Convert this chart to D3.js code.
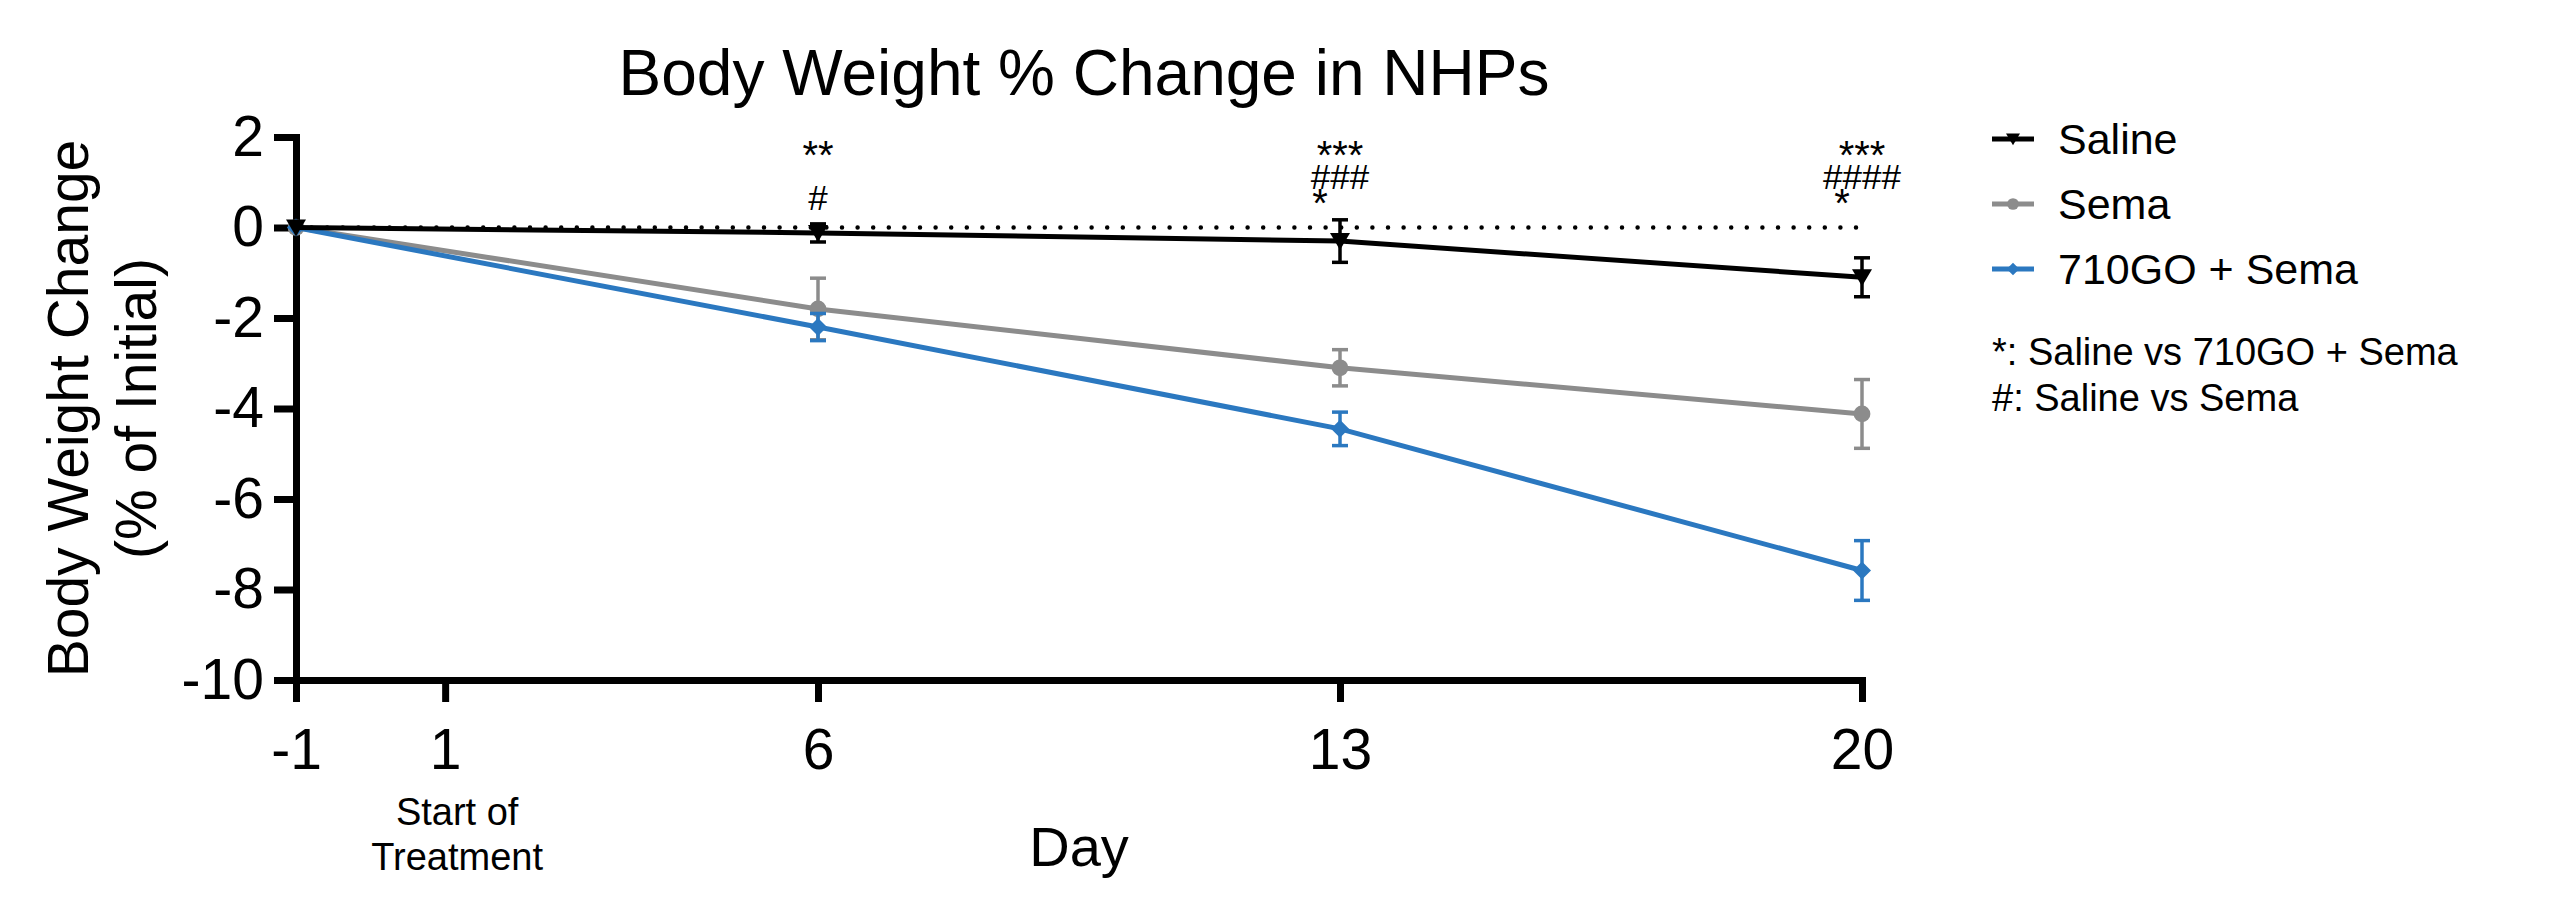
<!DOCTYPE html>
<html lang="en">
<head>
  <meta charset="utf-8" />
  <title>Body Weight % Change in NHPs</title>
  <script src="https://cdn.jsdelivr.net/npm/d3@7"></script>
  <style>
body{
  margin: 0;
  background: #ffffff;
}
svg{
  display: block;
  font-family: 'Liberation Sans', Arial, sans-serif;
}
  </style>
</head>
<body>
  <svg id="chart"></svg>
  <script>
  // data (mean and SEM, % of initial body weight)
  const days = [-1, 6, 13, 20];
  const dayTicks = [-1, 1, 6, 13, 20];
  const yTicks = [2, 0, -2, -4, -6, -8, -10];
  const seriesNames = ['Saline', 'Sema', '710GO + Sema'];
  const salineMean = [0, -0.12, -0.3, -1.1];
  const salineErr = [0, 0.2, 0.47, 0.43];
  const semaMean = [0, -1.8, -3.1, -4.12];
  const semaErr = [0, 0.68, 0.4, 0.76];
  const comboMean = [0, -2.2, -4.45, -7.58];
  const comboErr = [0, 0.3, 0.37, 0.66];
  const annotDays = [6, 13, 20];
  const starLabels = ['**', '***', '***'];
  const hashLabels = ['#', '###', '####'];
  const strayLabels = ['', '*', '*'];
  const footnotes = ['*: Saline vs 710GO + Sema', '#: Saline vs Sema'];

  const width = 2560, height = 921;
  const svg = d3.select('#chart').attr('width', width).attr('height', height);

  const x = d3.scaleLinear().domain([-1, 20]).range([296, 1862]);
  const y = d3.scaleLinear().domain([-10, 2]).range([680, 137]);

  const series = [
    {name: seriesNames[1], mean: semaMean, err: semaErr, color: '#8c8c8c', shape: 'circle'},
    {name: seriesNames[2], mean: comboMean, err: comboErr, color: '#2b78c0', shape: 'diamond'},
    {name: seriesNames[0], mean: salineMean, err: salineErr, color: '#000000', shape: 'triangle'}
  ];

  function markerPath(shape){
    if(shape == 'triangle') return 'M-10,-8L10,-8L0,9Z';
    if(shape == 'diamond') return 'M0,-9L9,0L0,9L-9,0Z';
    return d3.symbol(d3.symbolCircle, 220)();
  }

  // title
  svg.append('text')
      .attr('x', 1084).attr('y', 95)
      .attr('text-anchor', 'middle')
      .attr('font-size', 64)
      .text('Body Weight % Change in NHPs');

  // axes, prism style (plain hyphen for negatives)
  const plain = d => String(d);
  const yAxis = svg.append('g')
      .attr('transform', `translate(${x(-1)},0)`)
      .call(d3.axisLeft(y).tickValues(yTicks).tickFormat(plain).tickSize(22).tickSizeOuter(0).tickPadding(10));
  const xAxis = svg.append('g')
      .attr('transform', `translate(0,${y(-10)})`)
      .call(d3.axisBottom(x).tickValues(dayTicks).tickFormat(plain).tickSize(22).tickSizeOuter(0).tickPadding(27));

  [yAxis, xAxis].forEach(g => {
    g.attr('font-family', null);
    g.select('.domain').attr('stroke', '#000').attr('stroke-width', 7).attr('stroke-linecap', 'square');
    g.selectAll('.tick line').attr('stroke', '#000').attr('stroke-width', 7);
    g.selectAll('.tick text').attr('fill', '#000').attr('font-size', 57);
  });

  // dotted zero line
  svg.append('line')
      .attr('x1', x(-1)).attr('x2', x(20))
      .attr('y1', y(0)).attr('y2', y(0))
      .attr('stroke', '#000')
      .attr('stroke-width', 4.5)
      .attr('stroke-linecap', 'round')
      .attr('stroke-dasharray', '0,15.6');

  const line = d3.line().x((d, i) => x(days[i])).y(d => y(d));

  series.forEach(s => {
    const g = svg.append('g');
    g.append('path')
        .datum(s.mean)
        .attr('d', line)
        .attr('fill', 'none')
        .attr('stroke', s.color)
        .attr('stroke-width', 5);

    const eb = g.selectAll('.eb')
      .data(s.mean.map((m, i) => ({day: days[i], m: m, e: s.err[i]})).filter(d => d.e > 0))
      .enter().append('g')
        .attr('stroke', s.color)
        .attr('stroke-width', 3.5);
    eb.append('line')
        .attr('x1', d => x(d.day)).attr('x2', d => x(d.day))
        .attr('y1', d => y(d.m + d.e)).attr('y2', d => y(d.m - d.e));
    eb.append('line')
        .attr('x1', d => x(d.day) - 8).attr('x2', d => x(d.day) + 8)
        .attr('y1', d => y(d.m + d.e)).attr('y2', d => y(d.m + d.e));
    eb.append('line')
        .attr('x1', d => x(d.day) - 8).attr('x2', d => x(d.day) + 8)
        .attr('y1', d => y(d.m - d.e)).attr('y2', d => y(d.m - d.e));

    g.selectAll('.mk')
      .data(s.mean)
      .enter().append('path')
        .attr('d', markerPath(s.shape))
        .attr('transform', (d, i) => `translate(${x(days[i])},${y(d)})`)
        .attr('fill', s.color);
  });

  // significance marks
  const annot = svg.append('g')
      .attr('text-anchor', 'middle');
  annotDays.forEach((day, i) => {
    annot.append('text')
        .attr('x', x(day)).attr('y', y(2) + 32)
        .attr('font-size', 40)
        .text(starLabels[i]);
    annot.append('text')
        .attr('x', x(day)).attr('y', y(2) + (hashLabels[i].length == 1 ? 73 : 52))
        .attr('font-size', 35)
        .text(hashLabels[i]);
    annot.append('text')
        .attr('x', x(day) - 20).attr('y', y(2) + 80)
        .attr('font-size', 40)
        .text(strayLabels[i]);
  });

  // axis titles
  svg.append('text')
      .attr('x', (x(-1) + x(20)) / 2).attr('y', 866)
      .attr('text-anchor', 'middle')
      .attr('font-size', 56)
      .text('Day');

  const startLbl = svg.append('text')
      .attr('text-anchor', 'middle')
      .attr('font-size', 38);
  startLbl.append('tspan').attr('x', x(1) + 12).attr('y', 825).text('Start of');
  startLbl.append('tspan').attr('x', x(1) + 12).attr('y', 870).text('Treatment');

  const yLbl = svg.append('text')
      .attr('transform', `translate(0,${(y(2) + y(-10)) / 2}) rotate(-90)`)
      .attr('text-anchor', 'middle')
      .attr('font-size', 57);
  yLbl.append('tspan').attr('x', 0).attr('y', 88).text('Body Weight Change');
  yLbl.append('tspan').attr('x', 0).attr('y', 156).text('(% of Initial)');

  // legend
  const legend = svg.append('g').attr('transform', 'translate(1992,139)');
  const legRows = legend.selectAll('g')
    .data([series[2], series[0], series[1]])
    .enter().append('g')
      .attr('transform', (d, i) => `translate(0,${i * 65})`);
  legRows.append('line')
      .attr('x1', 0).attr('x2', 42)
      .attr('stroke', d => d.color)
      .attr('stroke-width', 5);
  legRows.append('path')
      .attr('d', d => markerPath(d.shape))
      .attr('transform', 'translate(21,0) scale(0.7)')
      .attr('fill', d => d.color);
  legRows.append('text')
      .attr('x', 66).attr('dy', '0.36em')
      .attr('font-size', 43)
      .text(d => d.name);

  legend.selectAll('.fn')
    .data(footnotes)
    .enter().append('text')
      .attr('x', 0)
      .attr('y', (d, i) => 226 + i * 46)
      .attr('font-size', 38)
      .text(d => d);
  </script>
</body>
</html>
